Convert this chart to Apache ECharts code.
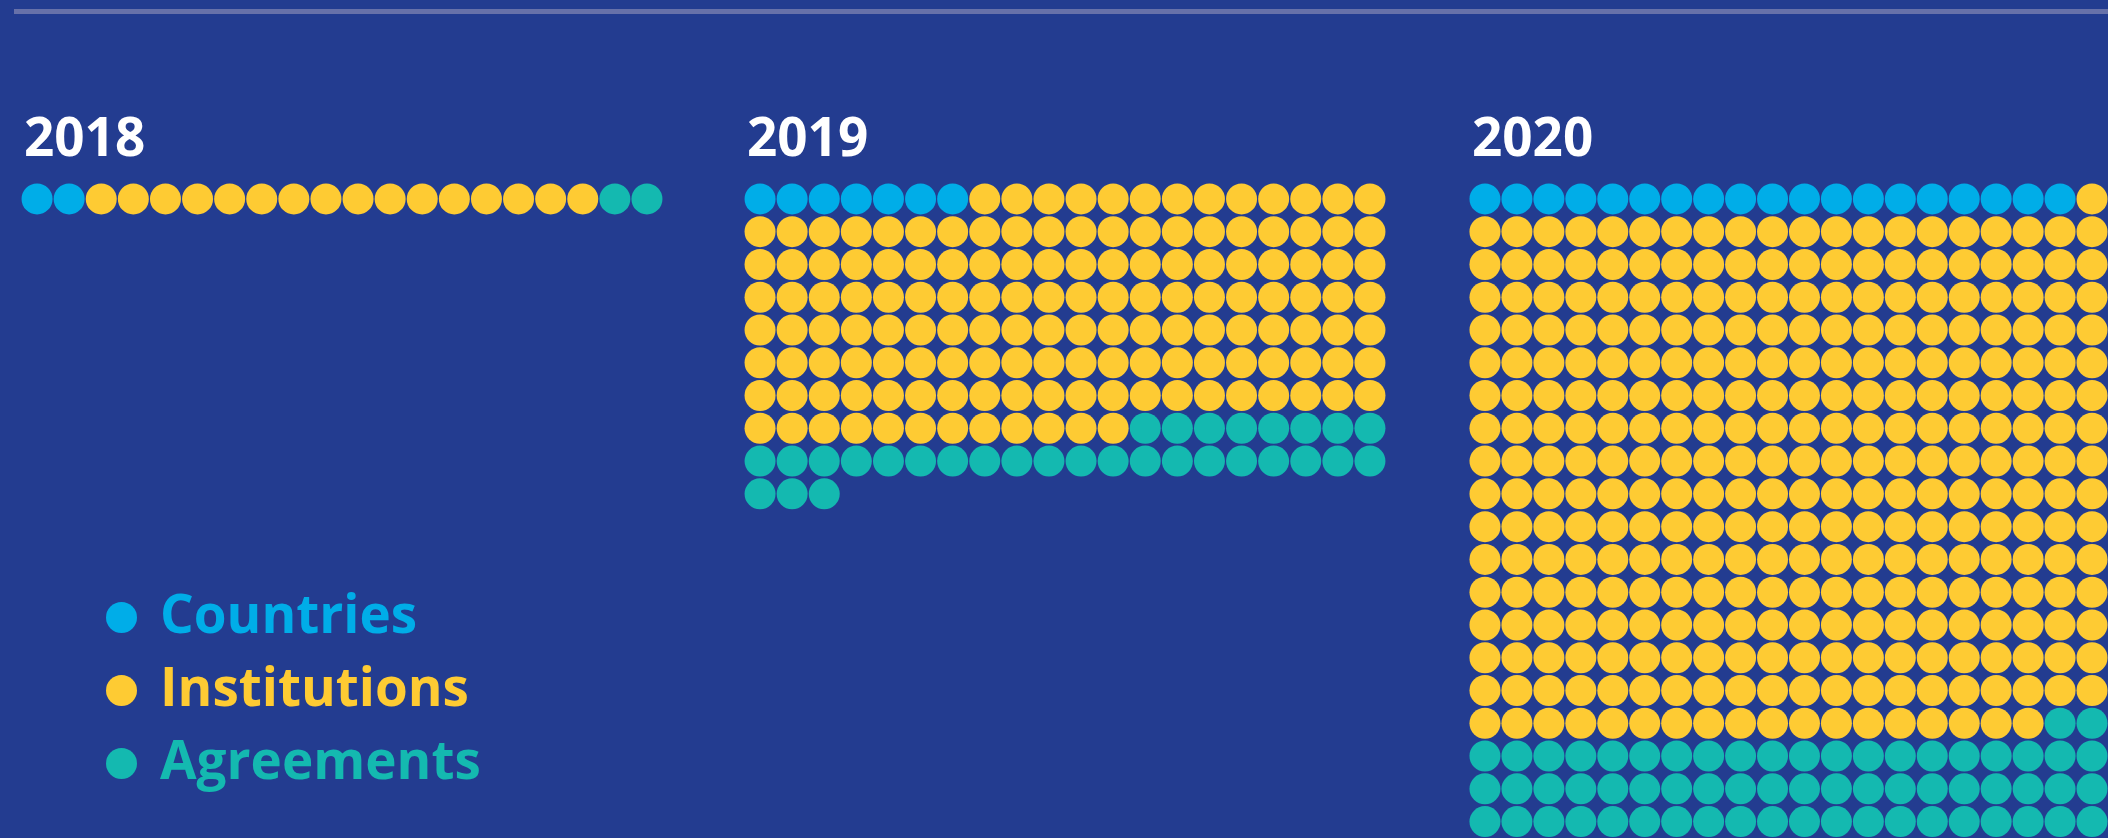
<!DOCTYPE html>
<html>
<head>
<meta charset="utf-8">
<script src="https://cdn.jsdelivr.net/npm/echarts@6/dist/echarts.min.js"></script>
<style>
  html, body { margin: 0; padding: 0; background: #233c90; }
  #chart { width: 2108px; height: 838px; }
</style>
</head>
<body>
<div id="chart"></div>
<script>
// ---- data ----
const years = ['2018', '2019', '2020'];
const categories = ['Countries', 'Institutions', 'Agreements'];
const countries = [2, 7, 19];
const institutions = [16, 145, 319];
const agreements = [2, 31, 62];
const dotsPerRow = 20;

// ---- styling ----
const colors = { Countries: '#00ade8', Institutions: '#fecb33', Agreements: '#14b9b0' };
const FONT = '"Open Sans", Lato, sans-serif';
const gridLefts = [21, 744, 1469];
const pitchX = 32.1, pitchY = 33;
const gridTop = 199 - pitchY / 2;
const rowsShown = 20;

const counts = { Countries: countries, Institutions: institutions, Agreements: agreements };

const grids = [], xAxes = [], yAxes = [], series = [], titles = [];
years.forEach((yr, yi) => {
  grids.push({ left: gridLefts[yi], top: gridTop, width: pitchX * dotsPerRow, height: pitchY * rowsShown });
  xAxes.push({ gridIndex: yi, type: 'value', min: -0.5, max: dotsPerRow - 0.5, show: false });
  yAxes.push({ gridIndex: yi, type: 'value', inverse: true, min: -0.5, max: rowsShown - 0.5, show: false });
  titles.push({
    text: yr, left: gridLefts[yi] - 2, top: 109,
    textStyle: { color: '#ffffff', fontFamily: FONT, fontWeight: 'bold', fontSize: 53 }
  });
  let start = 0;
  categories.forEach(cat => {
    const n = counts[cat][yi];
    const data = [];
    for (let i = start; i < start + n; i++) {
      data.push([i % dotsPerRow, Math.floor(i / dotsPerRow)]);
    }
    start += n;
    series.push({
      type: 'scatter', name: cat, xAxisIndex: yi, yAxisIndex: yi,
      symbol: 'circle', symbolSize: 31, data: data,
      itemStyle: { color: colors[cat], opacity: 1 },
      emphasis: { disabled: true }, silent: true, clip: false
    });
  });
});

const chart = echarts.init(document.getElementById('chart'), null, { renderer: 'canvas' });
chart.setOption({
  backgroundColor: '#233c90',
  animation: false,
  title: titles,
  grid: grids,
  xAxis: xAxes,
  yAxis: yAxes,
  legend: {
    data: categories.map(c => ({ name: c, textStyle: { color: colors[c] } })),
    orient: 'vertical', left: 101, top: 586,
    icon: 'circle', itemWidth: 31, itemHeight: 31, itemGap: 20,
    selectedMode: false,
    textStyle: { fontFamily: FONT, fontWeight: 'bold', fontSize: 53, lineHeight: 52, padding: [0, 0, 0, 18] }
  },
  graphic: [{
    type: 'line', shape: { x1: 14, y1: 11.5, x2: 2108, y2: 11.5 },
    style: { stroke: '#6771a9', lineWidth: 5 }, silent: true
  }],
  series: series
});
</script>
</body>
</html>
